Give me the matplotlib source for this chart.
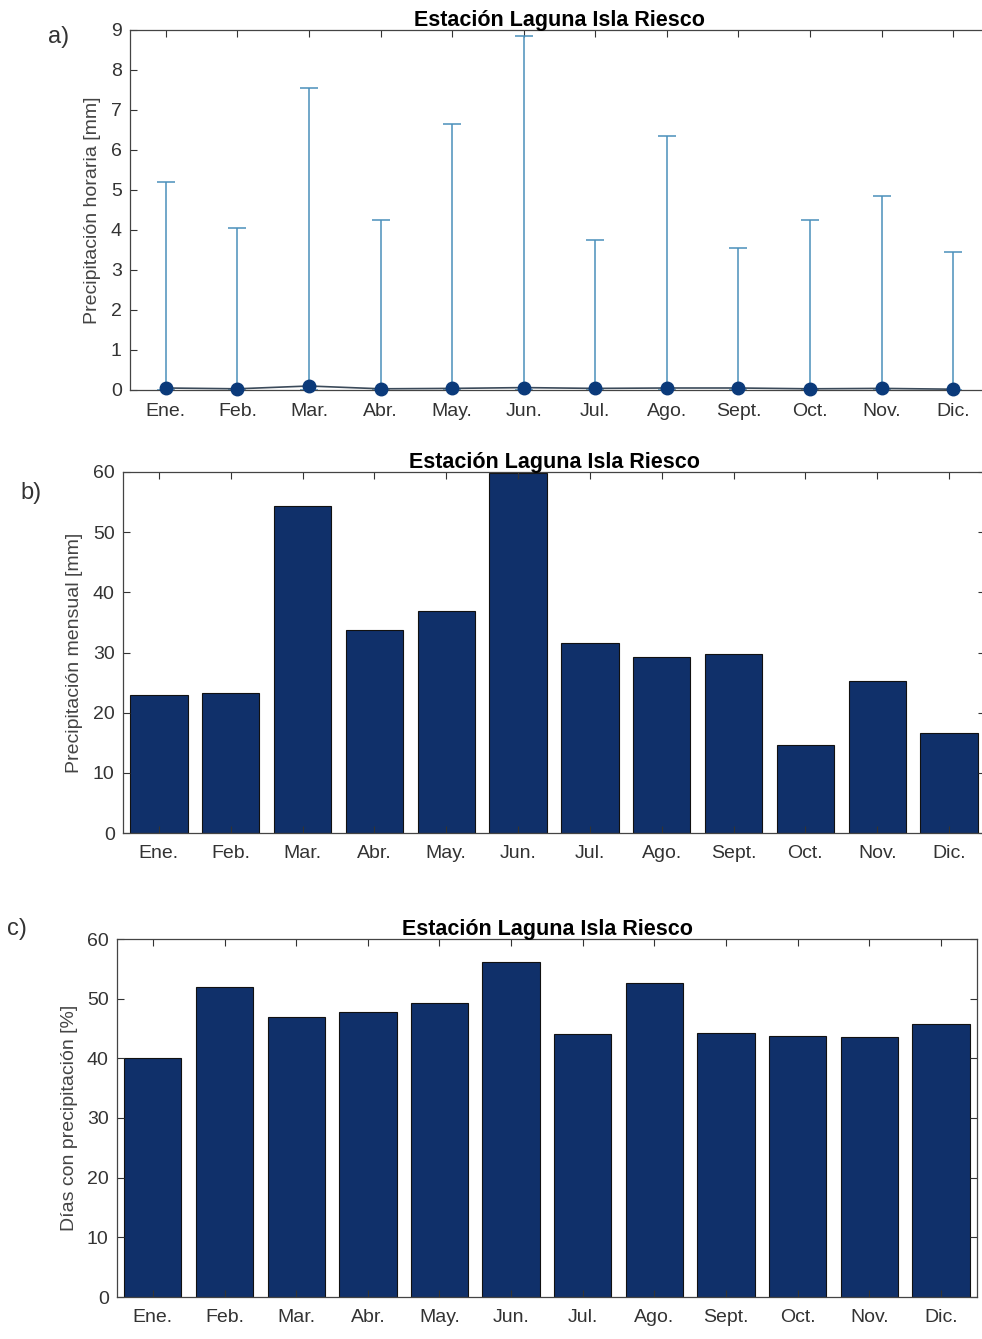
import numpy as np
import matplotlib
matplotlib.use("Agg")
import matplotlib.pyplot as plt

# ── DATA ──────────────────────────────────────────────────────────────────────
meses = ["Ene.", "Feb.", "Mar.", "Abr.", "May.", "Jun.",
         "Jul.", "Ago.", "Sept.", "Oct.", "Nov.", "Dic."]

# a) hourly precipitation: mean and maximum per month [mm]
horaria_media = [0.05, 0.03, 0.10, 0.03, 0.04, 0.06, 0.04, 0.05, 0.05, 0.03, 0.04, 0.02]
horaria_max   = [5.2, 4.05, 7.55, 4.25, 6.65, 8.85, 3.75, 6.35, 3.55, 4.25, 4.85, 3.45]

# b) monthly precipitation [mm]
mensual = [23.0, 23.2, 54.4, 33.8, 36.9, 59.8, 31.6, 29.3, 29.8, 14.6, 25.3, 16.7]

# c) days with precipitation [%]
dias_pp = [40.0, 52.0, 47.0, 47.7, 49.2, 56.2, 44.0, 52.6, 44.2, 43.8, 43.5, 45.8]

TITULO = "Estación Laguna Isla Riesco"

# ── STYLE ─────────────────────────────────────────────────────────────────────
plt.rcParams["font.family"] = ["Liberation Sans", "DejaVu Sans"]
TXT      = "#333333"
BAR_COL  = "#10306a"
ERR_COL  = "#4a8fbb"
MRK_COL  = "#0b3a7a"

W, H = 982, 1339
fig = plt.figure(figsize=(W / 100, H / 100), dpi=100, facecolor="white")


def px_axes(left, top, right, bottom):
    return fig.add_axes([left / W, 1 - bottom / H, (right - left) / W, (bottom - top) / H])


def style_ax(ax, ylabel, yticks, label_x):
    x = np.arange(1, len(meses) + 1)
    ax.set_xlim(0.5, 12.5)
    ax.set_xticks(x)
    ax.set_xticklabels(meses)
    ax.set_yticks(yticks)
    ax.set_ylim(yticks[0], yticks[-1])
    ax.tick_params(direction="in", length=5, width=0.8, colors=TXT,
                   labelsize=14, top=True, right=True, pad=6)
    ax.tick_params(axis="x", pad=9)
    for s in ax.spines.values():
        s.set_color("#444444")
        s.set_linewidth(0.9)
    ax.set_ylabel(ylabel, fontsize=14, color="#444444")
    ax.yaxis.set_label_coords(label_x, 0.5)
    ax.set_title(TITULO, fontsize=15.5, fontweight="bold", color="black", pad=3)


x = np.arange(1, len(meses) + 1)

# ── PANEL a ───────────────────────────────────────────────────────────────────
ax1 = px_axes(130, 30, 989, 390)
media = np.array(horaria_media)
err = [media, np.array(horaria_max) - media]
ax1.errorbar(x, media, yerr=err, fmt="none", ecolor=ERR_COL, elinewidth=1.1,
             capsize=6.5, capthick=1.1, zorder=2)
ax1.plot(x, media, color="#3b4a5a", lw=1.2, zorder=3)
ax1.plot(x, media, "o", color=MRK_COL, ms=9, zorder=4, clip_on=False)
style_ax(ax1, "Precipitación horaria [mm]", np.arange(0, 10, 1), -0.034)

# ── PANEL b ───────────────────────────────────────────────────────────────────
ax2 = px_axes(123, 472, 985, 833)
ax2.bar(x, mensual, width=0.8, color=BAR_COL, edgecolor="#111111", linewidth=0.8)
style_ax(ax2, "Precipitación mensual [mm]", np.arange(0, 70, 10), -0.046)

# ── PANEL c ───────────────────────────────────────────────────────────────────
ax3 = px_axes(117, 939, 977, 1297)
ax3.bar(x, dias_pp, width=0.8, color=BAR_COL, edgecolor="#111111", linewidth=0.8)
style_ax(ax3, "Días con precipitación [%]", np.arange(0, 70, 10), -0.045)

# ── PANEL LETTERS ─────────────────────────────────────────────────────────────
for txt, xp, yp in [("a)", 48, 37), ("b)", 20, 493), ("c)", 7, 929)]:
    fig.text(xp / W, 1 - yp / H, txt, fontsize=17, color=TXT, va="center", ha="left")

fig.savefig("out.png", dpi=100, facecolor="white")
